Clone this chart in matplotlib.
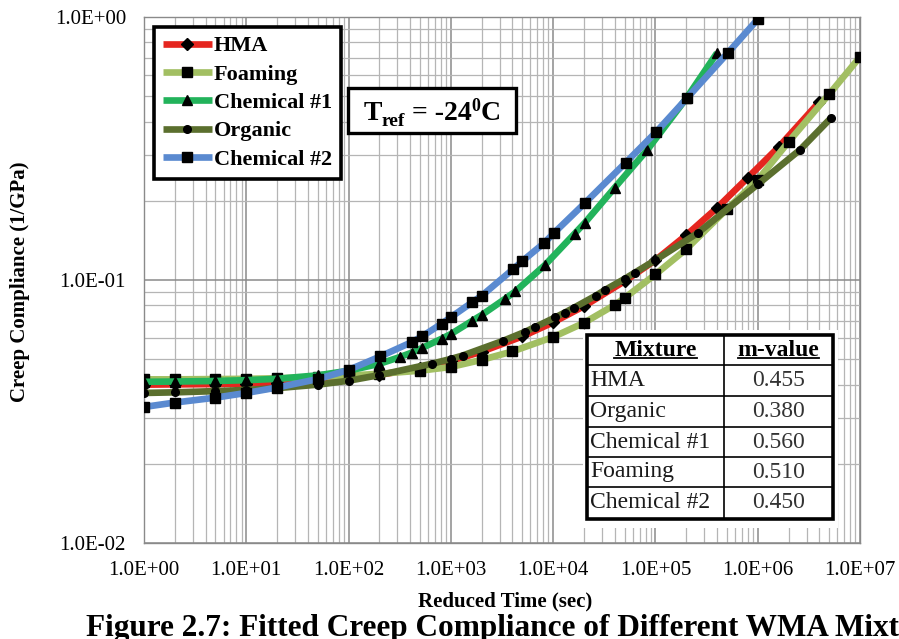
import matplotlib
matplotlib.use("Agg")
import matplotlib.pyplot as plt
from matplotlib.patches import Rectangle
from matplotlib.lines import Line2D
from matplotlib.ticker import FixedLocator, FixedFormatter, LogLocator, NullFormatter

SERIF = "Liberation Serif"
plt.rcParams["font.family"] = [SERIF, "DejaVu Serif"]

# ---- creep compliance master curves (reduced time in s, compliance in 1/GPa)
hma_time = [1, 2, 5, 10, 20, 50, 100, 200, 500, 1e3, 2e3, 5e3, 1e4, 2e4, 5e4,
            1e5, 2e5, 4e5, 8e5, 1.6e6, 4e6]
hma_comp = [0.0400, 0.0401, 0.0402, 0.0404, 0.0407, 0.0414, 0.0423, 0.0436, 0.0462,
            0.0492, 0.0534, 0.0610, 0.0690, 0.0795, 0.0990, 0.1190, 0.1480, 0.1880,
            0.2450, 0.3200, 0.4750]

foam_time = [1, 2, 5, 10, 20, 50, 100, 200, 500, 1e3, 2e3, 4e3, 1e4, 2e4, 4e4, 5e4,
             1e5, 2e5, 5e5, 1e6, 2e6, 5e6, 1e7]
foam_comp = [0.0419, 0.0419, 0.0420, 0.0421, 0.0423, 0.0428, 0.0433, 0.0440, 0.0452,
             0.0467, 0.0497, 0.0535, 0.0607, 0.0687, 0.0804, 0.0855, 0.1050, 0.1310,
             0.1860, 0.2400, 0.3350, 0.5090, 0.7050]

chem1_time = [1, 2, 5, 10, 20, 50, 100, 200, 316, 417, 525, 813, 1e3, 1620, 2e3, 3390,
              4270, 8320, 1.62e4, 2.04e4, 3.98e4, 8.3e4, 2e5, 4e5]
chem1_comp = [0.0410, 0.0411, 0.0413, 0.0416, 0.0421, 0.0434, 0.0452, 0.0480, 0.0509,
              0.0530, 0.0552, 0.0598, 0.0623, 0.0700, 0.0736, 0.0848, 0.0905, 0.1140,
              0.1500, 0.1650, 0.2240, 0.3120, 0.4900, 0.7300]

org_time = [1, 2, 5, 10, 20, 50, 100, 200, 660, 1e3, 1300, 3200, 5250, 6600, 1.05e4,
            1.3e4, 1.6e4, 2.6e4, 3.2e4, 5e4, 6.3e4, 1e5, 2.6e5, 1e6, 2.6e6, 5.2e6]
org_comp = [0.0372, 0.0374, 0.0378, 0.0382, 0.0388, 0.0400, 0.0414, 0.0435, 0.0481,
            0.0501, 0.0516, 0.0586, 0.0634, 0.0661, 0.0721, 0.0752, 0.0785, 0.0871,
            0.0916, 0.1010, 0.1067, 0.1190, 0.1510, 0.2310, 0.3130, 0.4130]

chem2_time = [1, 2, 5, 10, 20, 50, 100, 204, 417, 525, 813, 1e3, 1620, 2e3, 4070, 5e3,
              8130, 1.02e4, 2.04e4, 5.1e4, 1.02e5, 2.04e5, 5.1e5, 1e6]
chem2_comp = [0.0329, 0.0342, 0.0357, 0.0372, 0.0390, 0.0420, 0.0455, 0.0512, 0.0581,
              0.0611, 0.0682, 0.0722, 0.0823, 0.0871, 0.1100, 0.1180, 0.1380, 0.1510,
              0.1960, 0.2790, 0.3660, 0.4920, 0.7300, 0.9800]

series_names = ["HMA", "Foaming", "Chemical #1", "Organic", "Chemical #2"]
series_time = [hma_time, foam_time, chem1_time, org_time, chem2_time]
series_comp = [hma_comp, foam_comp, chem1_comp, org_comp, chem2_comp]
series_colors = ["#e5261f", "#a2bf62", "#22b35b", "#5b6f2e", "#5a8ad0"]
series_markers = ["D", "s", "^", "o", "s"]
series_msize = [6.0, 7.0, 7.0, 5.5, 7.0]

# ---- m-value table
mixtures = ["HMA", "Organic", "Chemical #1", "Foaming", "Chemical #2"]
m_values = ["0.455", "0.380", "0.560", "0.510", "0.450"]

x_tick_values = [1, 10, 100, 1e3, 1e4, 1e5, 1e6, 1e7]
x_tick_labels = ["1.0E+00", "1.0E+01", "1.0E+02", "1.0E+03", "1.0E+04",
                 "1.0E+05", "1.0E+06", "1.0E+07"]
y_tick_values = [0.01, 0.1, 1.0]
y_tick_labels = ["1.0E-02", "1.0E-01", "1.0E+00"]

W, H = 899, 639
fig = plt.figure(figsize=(W / 100, H / 100), dpi=100)
renderer = fig.canvas.get_renderer()


def fx(px):
    return px / W


def fy(py):
    return 1 - py / H


ax = fig.add_axes([fx(144), fy(543), (860 - 144) / W, (543 - 17) / H])
ax.set_xscale("log")
ax.set_yscale("log")
ax.set_xlim(1, 1e7)
ax.set_ylim(0.01, 1.0)

ax.xaxis.set_major_locator(FixedLocator(x_tick_values))
ax.xaxis.set_major_formatter(FixedFormatter(x_tick_labels))
ax.yaxis.set_major_locator(FixedLocator(y_tick_values))
ax.yaxis.set_major_formatter(FixedFormatter(y_tick_labels))
for axis in (ax.xaxis, ax.yaxis):
    axis.set_minor_locator(LogLocator(base=10, subs=range(2, 10), numticks=20))
    axis.set_minor_formatter(NullFormatter())

ax.tick_params(which="both", length=0)
ax.tick_params(axis="x", which="major", pad=13, labelsize=15)
ax.tick_params(axis="y", which="major", pad=13, labelsize=15)

ax.grid(which="major", color="#8a8a8a", lw=1.1)
ax.grid(which="minor", color="#b5b5b5", lw=0.9)
ax.set_axisbelow(True)
for sp in ax.spines.values():
    sp.set_color("#8a8a8a")
    sp.set_linewidth(1.0)

handles = []
for name, t, d, c, m, ms in zip(series_names, series_time, series_comp,
                                 series_colors, series_markers, series_msize):
    ln, = ax.plot(t, d, color=c, lw=4.8, marker=m, ms=ms, mfc="black",
                  mec="black", solid_capstyle="butt", label=name, zorder=3)
    handles.append(ln)

leg = ax.legend(handles, series_names, loc="upper left",
                bbox_to_anchor=(fx(154), fy(27)), bbox_transform=fig.transFigure,
                prop={"family": SERIF, "weight": "bold", "size": 16},
                frameon=True, fancybox=False, framealpha=1, edgecolor="black",
                borderpad=0.4, labelspacing=0.35, handlelength=2.2,
                handletextpad=0.1, borderaxespad=0, numpoints=1)
leg.get_frame().set_linewidth(2.6)
leg.set_zorder(10)

# reference temperature box
fig.patches.append(Rectangle((fx(348), fy(133)), (516 - 348) / W, (133 - 88) / H,
                             transform=fig.transFigure, facecolor="white",
                             edgecolor="black", lw=2.4, zorder=5))
tref_parts = [("T", 20, 0), ("ref", 14, -6), (" = -24", 20, 0), ("0", 13, 9), ("C", 20, 0)]
tref_texts = []
total_w = 0.0
for s, size, dy in tref_parts:
    t = fig.text(0, 0, s, fontsize=size, fontweight="bold", ha="left",
                 va="baseline", zorder=6)
    w = t.get_window_extent(renderer).width
    tref_texts.append((t, w, dy))
    total_w += w
x_cursor = 432 - total_w / 2
base_y = 120
for t, w, dy in tref_texts:
    t.set_position((fx(x_cursor), fy(base_y - dy)))
    x_cursor += w

# m-value table
tl, tr, tt, tb, tsplit = 587, 833, 335, 519, 724
row_edges = [335, 365, 396, 427, 457, 487, 519]
fig.patches.append(Rectangle((fx(tl - 4), fy(tb + 9)), (tr - tl + 9) / W,
                             (tb - tt + 14) / H, transform=fig.transFigure,
                             facecolor="white", edgecolor="none", zorder=5))
for yy in row_edges[1:-1]:
    fig.lines.append(Line2D([fx(tl), fx(tr)], [fy(yy), fy(yy)],
                            transform=fig.transFigure, color="black", lw=1.2,
                            zorder=6))
fig.lines.append(Line2D([fx(tsplit), fx(tsplit)], [fy(tt), fy(tb)],
                        transform=fig.transFigure, color="black", lw=1.2, zorder=6))
fig.patches.append(Rectangle((fx(tl), fy(tb)), (tr - tl) / W, (tb - tt) / H,
                             transform=fig.transFigure, facecolor="none",
                             edgecolor="black", lw=2.6, zorder=7))

col1_c = (tl + tsplit) / 2
col2_c = (tsplit + tr) / 2
hdr_y = (row_edges[0] + row_edges[1]) / 2
h1 = fig.text(fx(col1_c), fy(hdr_y), "Mixture", ha="center", va="center",
              fontsize=17, fontweight="bold", zorder=8)
h2 = fig.text(fx(col2_c), fy(hdr_y), "m-value", ha="center", va="center",
              fontsize=17, fontweight="bold", zorder=8)
for i, (mix, mv) in enumerate(zip(mixtures, m_values)):
    yc = (row_edges[i + 1] + row_edges[i + 2]) / 2
    fig.text(fx(tl + 3), fy(yc), mix, ha="left", va="center", fontsize=17,
             color="#1a1a1a", zorder=8)
    fig.text(fx(col2_c), fy(yc), mv, ha="center", va="center", fontsize=17,
             color="#333333", zorder=8)

# underline the table headers
for h in (h1, h2):
    bb = h.get_window_extent(renderer)
    yline = bb.y0 + 3
    fig.lines.append(Line2D([bb.x0 / W, bb.x1 / W], [yline / H, yline / H],
                            transform=fig.transFigure, color="black", lw=1.3,
                            zorder=8))

# axis titles and caption
fig.text(fx(20), fy(282), "Creep Compliance (1/GPa)", rotation=90, ha="center",
         va="center", fontsize=15, fontweight="bold")
fig.text(fx(86), fy(636), "Figure 2.7: Fitted Creep Compliance of Different WMA Mixtures",
         ha="left", va="baseline", fontsize=22.5, fontweight="bold", zorder=3)
fig.text(fx(505), fy(601), "Reduced Time (sec)", ha="center", va="center",
         fontsize=15, fontweight="bold", zorder=4,
         bbox=dict(facecolor="white", edgecolor="none", pad=2))

fig.savefig("out.png", dpi=100)
